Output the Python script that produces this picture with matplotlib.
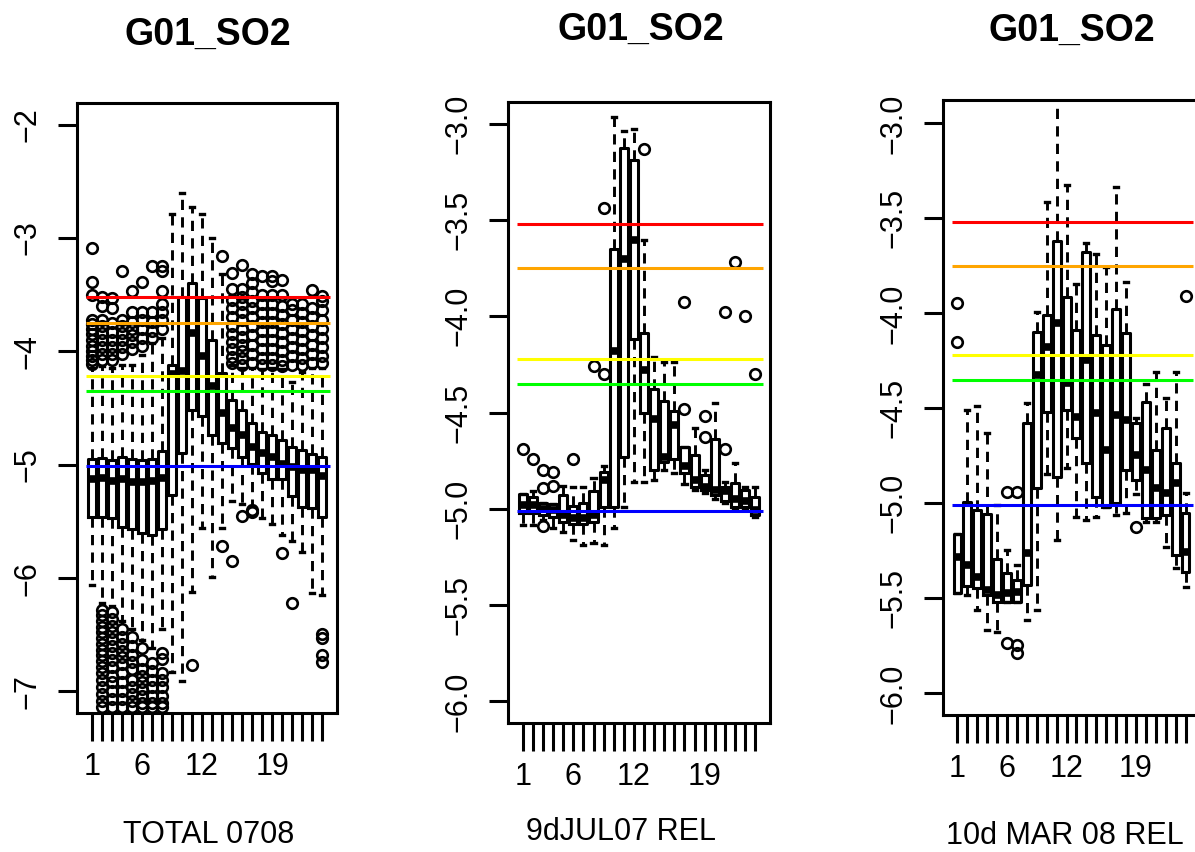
import matplotlib
matplotlib.use("Agg")
import matplotlib.pyplot as plt

plt.rcParams["font.family"] = ["Liberation Sans", "DejaVu Sans"]

W, H = 1195, 852

# hours on the x axis, and the labels R kept after dropping overlapping ones
HOURS = list(range(1, 25))
SHOWN_LABELS = {1: "1", 6: "6", 12: "12", 19: "19"}

# threshold lines drawn over every panel
THRESHOLDS = [-3.52, -3.75, -4.22, -4.35, -5.01]
THRESHOLD_COLORS = ["#FF0000", "#FFA500", "#FFFF00", "#00FF00", "#0000FF"]

# ---- panel 1: TOTAL 0708 ----
total_q3 = [-4.95, -4.94, -4.96, -4.93, -4.95, -4.96, -4.95, -4.88, -4.12, -3.52, -3.40, -3.53,
            -3.90, -4.19, -4.43, -4.52, -4.63, -4.71, -4.74, -4.78, -4.84, -4.87, -4.91, -4.93]
total_med = [-5.13, -5.12, -5.14, -5.13, -5.15, -5.15, -5.14, -5.12, -4.20, -4.17, -3.84, -4.04,
             -4.31, -4.54, -4.68, -4.74, -4.84, -4.90, -4.93, -4.99, -5.02, -5.05, -5.05, -5.10]
total_q1 = [-5.46, -5.46, -5.47, -5.55, -5.57, -5.60, -5.62, -5.57, -5.27, -4.90, -4.52, -4.57,
            -4.74, -4.81, -4.85, -4.93, -4.99, -5.07, -5.13, -5.13, -5.28, -5.37, -5.38, -5.46]
total_hi = [-4.15, -4.13, -4.15, -4.12, -4.12, -4.03, -3.93, -3.88, -2.79, -2.60, -2.73, -2.79,
            -3.00, -3.32, -4.12, -4.15, -4.15, -4.16, -4.15, -4.16, -4.27, -4.18, -4.15, -4.15]
total_lo = [-6.06, -6.22, -6.25, -6.38, -6.45, -6.55, -6.62, -6.45, -6.83, -6.91, -6.12, -5.56,
            -5.99, -5.56, -5.32, -5.35, -5.36, -5.47, -5.52, -5.62, -5.67, -5.77, -6.13, -6.15]
total_out = [
    [-3.09, -3.39, -3.50, -3.72, -3.76, -3.80, -3.85, -3.90, -3.95, -4.00, -4.04, -4.08, -4.11],
    [-3.52, -3.60, -3.72, -3.78, -3.84, -3.90, -3.96, -4.02, -4.08,
     -6.28, -6.33, -6.38, -6.43, -6.48, -6.53, -6.58, -6.63, -6.68, -6.73, -6.78, -6.84,
     -6.90, -6.96, -7.02, -7.08, -7.14],
    [-3.53, -3.62, -3.75, -3.83, -3.90, -3.96, -4.02, -4.08,
     -6.30, -6.36, -6.42, -6.48, -6.54, -6.60, -6.66, -6.72, -6.78, -6.86, -6.92, -7.00,
     -7.07, -7.14],
    [-3.29, -3.72, -3.78, -3.84, -3.90, -3.96, -4.02,
     -6.45, -6.52, -6.58, -6.64, -6.70, -6.76, -6.84, -6.92, -7.00, -7.07, -7.14],
    [-3.47, -3.65, -3.74, -3.80, -3.86, -3.92, -3.98,
     -6.52, -6.60, -6.68, -6.74, -6.80, -6.90, -6.96, -7.02, -7.08, -7.14],
    [-3.39, -3.65, -3.72, -3.80, -3.88, -3.95,
     -6.62, -6.72, -6.80, -6.86, -6.92, -6.98, -7.04, -7.10, -7.14],
    [-3.25, -3.65, -3.74, -3.82, -3.88,
     -6.75, -6.82, -6.90, -6.96, -7.04, -7.10, -7.14],
    [-3.25, -3.29, -3.47, -3.58, -3.65, -3.72, -3.80,
     -6.66, -6.71, -6.84, -6.90, -6.96, -7.04, -7.10, -7.14],
    [],
    [],
    [-6.77],
    [],
    [],
    [-3.16, -5.72],
    [-3.31, -3.45, -3.55, -3.62, -3.70, -3.78, -3.85, -3.92, -3.98, -4.05, -4.10, -5.85],
    [-3.24, -3.45, -3.52, -3.58, -3.65, -3.72, -3.80, -3.87, -3.94, -4.00, -4.06, -4.12, -5.45],
    [-3.32, -3.40, -3.48, -3.56, -3.62, -3.70, -3.78, -3.86, -3.94, -4.02, -4.10, -5.40, -5.42],
    [-3.34, -3.50, -3.58, -3.66, -3.74, -3.82, -3.90, -3.98, -4.06, -4.12],
    [-3.34, -3.38, -3.50, -3.58, -3.66, -3.74, -3.82, -3.90, -3.98, -4.06, -4.12],
    [-3.37, -3.50, -3.60, -3.68, -3.76, -3.84, -3.92, -4.00, -4.08, -4.13, -5.78],
    [-3.58, -3.64, -3.72, -3.80, -3.88, -3.96, -4.04, -4.12, -6.22],
    [-3.58, -3.66, -3.74, -3.82, -3.90, -3.98, -4.06, -4.12],
    [-3.46, -3.62, -3.70, -3.78, -3.86, -3.94, -4.02, -4.10],
    [-3.51, -3.56, -3.64, -3.72, -3.80, -3.88, -3.96, -4.04, -4.10, -6.49, -6.53, -6.68, -6.74],
]

# ---- panel 2: 9dJUL07 REL ----
jul_q3 = [-4.924, -4.94, -4.97, -4.975, -4.93, -4.985, -4.97, -4.91, -4.81, -3.65, -3.125, -3.19,
          -4.086, -4.38, -4.44, -4.49, -4.68, -4.72, -4.824, -4.64, -4.885, -4.864, -4.90, -4.94]
jul_med = [-4.98, -4.98, -5.0, -5.005, -5.03, -5.05, -5.05, -5.03, -4.85, -4.18, -3.705, -3.605,
           -4.28, -4.535, -4.73, -4.565, -4.78, -4.85, -4.885, -4.90, -4.91, -4.95, -4.96, -5.005]
jul_q1 = [-5.023, -5.023, -5.03, -5.04, -5.07, -5.08, -5.08, -5.07, -4.99, -4.99, -4.73, -4.12,
          -4.504, -4.80, -4.755, -4.74, -4.815, -4.885, -4.90, -4.928, -4.96, -4.99, -4.99, -5.03]
jul_hi = [-4.924, -4.905, -4.97, -4.975, -4.88, -4.885, -4.885, -4.84, -4.78, -2.965, -3.04, -3.026,
          -3.605, -4.21, -4.236, -4.236, -4.68, -4.58, -4.80, -4.45, -4.86, -4.76, -4.885, -4.885]
jul_lo = [-5.083, -5.083, -5.06, -5.10, -5.12, -5.16, -5.19, -5.175, -5.19, -5.10, -4.99, -4.86,
          -4.86, -4.85, -4.80, -4.815, -4.87, -4.90, -4.92, -4.95, -4.97, -5.0, -5.0, -5.04]
jul_out = [[-4.69], [-4.74], [-4.80, -4.89, -5.09], [-4.81, -4.88], [], [-4.74], [], [-4.26],
           [-3.44, -4.30], [], [], [], [-3.13], [], [], [], [-3.925, -4.48], [], [-4.52, -4.625],
           [], [-3.98, -4.69], [-3.72], [-4.00], [-4.30]]

# ---- panel 3: 10d MAR 08 REL ----
mar_q3 = [-5.163, -4.991, -5.035, -5.056, -5.295, -5.368, -5.403, -4.579, -4.097, -4.009, -3.618,
          -3.913, -4.085, -3.679, -4.114, -4.167, -3.979, -4.102, -4.579, -4.465, -4.72, -4.606,
          -4.79, -5.05]
mar_med = [-5.28, -5.324, -5.386, -5.456, -5.482, -5.474, -5.465, -5.263, -4.325, -4.176, -4.053,
           -4.369, -4.544, -4.246, -4.527, -4.72, -4.535, -4.562, -4.746, -4.825, -4.921, -4.948,
           -4.895, -5.255]
mar_q1 = [-5.474, -5.435, -5.447, -5.482, -5.517, -5.517, -5.517, -5.43, -4.921, -4.518, -4.86,
          -4.509, -4.658, -4.786, -4.969, -5.018, -5.0, -4.822, -4.877, -5.079, -5.079, -5.062,
          -5.272, -5.36]
mar_hi = [-5.163, -4.509, -4.49, -4.631, -5.009, -5.245, -5.324, -4.474, -3.992, -3.413, -2.75,
          -3.325, -3.846, -3.628, -3.688, -3.755, -3.334, -3.834, -4.55, -4.37, -4.307, -4.448,
          -4.307, -4.948]
mar_lo = [-5.474, -5.482, -5.561, -5.667, -5.675, -5.517, -5.517, -5.614, -5.561, -4.843, -5.193,
          -4.816, -5.07, -5.088, -5.07, -5.018, -5.062, -5.053, -4.95, -5.096, -5.096, -5.228,
          -5.342, -5.438]
mar_out = [[-3.944, -4.153], [], [], [], [], [-4.94, -5.737], [-4.94, -5.745, -5.79], [], [], [],
           [], [], [], [], [], [], [], [], [-5.123], [], [], [], [], [-3.909]]


def px_rect(left, top, right, bottom):
    """Axes rectangle in figure fractions from pixel edges."""
    return [left / W, 1 - bottom / H, (right - left) / W, (bottom - top) / H]


def draw_panel(ax, q3, med, q1, hi, lo, out, ylim, yticks, fmt):
    stats = []
    for i in range(len(HOURS)):
        stats.append({"q1": q1[i], "med": med[i], "q3": q3[i],
                      "whislo": lo[i], "whishi": hi[i], "fliers": out[i]})
    ax.bxp(stats, positions=HOURS, widths=0.8, capwidths=0.4, showfliers=True,
           boxprops=dict(color="black", linewidth=2.2),
           medianprops=dict(color="black", linewidth=5.5, solid_capstyle="butt"),
           whiskerprops=dict(color="black", linewidth=2.1, linestyle=(0, (3.5, 2.5))),
           capprops=dict(color="black", linewidth=2.4),
           flierprops=dict(marker="o", markerfacecolor="none", markeredgecolor="black",
                           markersize=7.6, markeredgewidth=1.9))
    ax.hlines(THRESHOLDS, 0.45, 24.72, colors=THRESHOLD_COLORS, linewidth=2.2, zorder=5)

    ax.set_xlim(-0.46, 25.46)
    ax.set_ylim(*ylim)
    ax.set_xticks(HOURS)
    ax.set_xticklabels([SHOWN_LABELS.get(h, "") for h in HOURS])
    ax.set_yticks(yticks)
    ax.set_yticklabels([fmt.format(t).replace("-", "\u2212") for t in yticks],
                       rotation=90, va="center")
    ax.tick_params(axis="y", length=14, width=2.2, labelsize=22, pad=11)
    ax.tick_params(axis="x", length=20, width=2.2, labelsize=22, pad=8)
    for sp in ax.spines.values():
        sp.set_linewidth(2.2)


fig = plt.figure(figsize=(W / 100, H / 100), dpi=100)

ax1 = fig.add_axes(px_rect(77, 103, 337, 713))
draw_panel(ax1, total_q3, total_med, total_q1, total_hi, total_lo, total_out,
           (-7.19, -1.81), [-7, -6, -5, -4, -3, -2], "{:.0f}")

ax2 = fig.add_axes(px_rect(508, 102, 770, 723))
draw_panel(ax2, jul_q3, jul_med, jul_q1, jul_hi, jul_lo, jul_out,
           (-6.112, -2.888), [-6.0, -5.5, -5.0, -4.5, -4.0, -3.5, -3.0], "{:.1f}")

ax3 = fig.add_axes(px_rect(943, 100, 1200, 715))
draw_panel(ax3, mar_q3, mar_med, mar_q1, mar_hi, mar_lo, mar_out,
           (-6.114, -2.877), [-6.0, -5.5, -5.0, -4.5, -4.0, -3.5, -3.0], "{:.1f}")

# titles and x labels placed where R put them
titles = [(208, 35), (641, 30), (1072, 31)]
xlabels = [("TOTAL 0708", 209, 835), ("9dJUL07 REL", 621, 832), ("10d MAR 08 REL", 1065, 836)]
for x, y in titles:
    fig.text(x / W, 1 - y / H, "G01_SO2", fontsize=27, fontweight="bold",
             ha="center", va="center")
for text, x, y in xlabels:
    fig.text(x / W, 1 - y / H, text, fontsize=22, ha="center", va="center")

fig.savefig("out.png", dpi=100)
plt.close(fig)
